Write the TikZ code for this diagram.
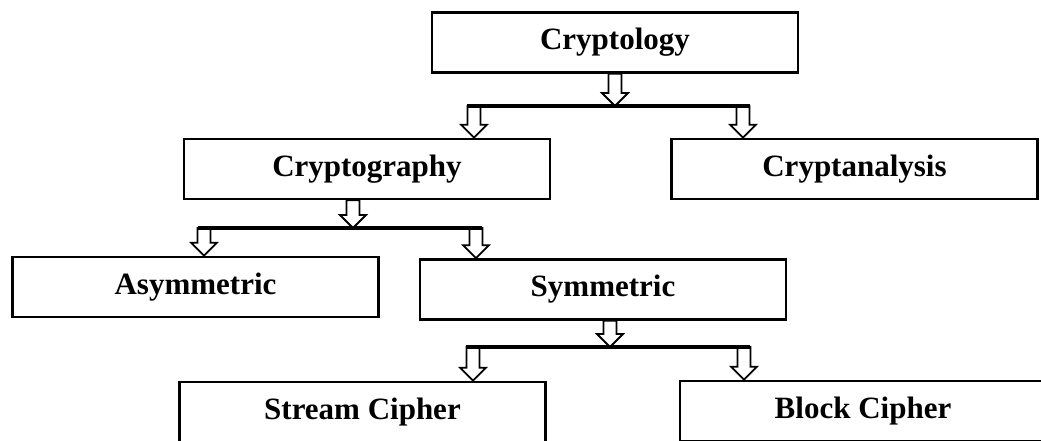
\documentclass[tikz,border=0pt]{standalone}
\usepackage{fontspec}
\setmainfont{Liberation Serif}
\usetikzlibrary{calc}
\tikzset{
  box/.style={draw=black, line width=2.6pt, minimum width=366pt, minimum height=60pt,
    inner sep=0pt, font=\fontsize{31}{36}\selectfont\bfseries},
  bar/.style={draw=black, line width=4pt},
  harrow/.style={draw=black, line width=1.8pt, fill=white, line join=miter},
}
\newcommand{\hollowarrow}[2]{%
  \draw[harrow] let \p1=(#1), \p2=(#2) in
   (\x1-6.5pt,\y1) -- (\x1+6.5pt,\y1) -- (\x1+6.5pt,\y2+13pt) -- (\x1+13pt,\y2+13pt)
   -- (\x1,\y2) -- (\x1-13pt,\y2+13pt) -- (\x1-6.5pt,\y2+13pt) -- cycle;}
\begin{document}
\begin{tikzpicture}[x=1pt,y=-1pt]
\useasboundingbox (0,0) rectangle (1041,441);
\clip (0,0) rectangle (1041,441);
% boxes
\node[box] (cryptology)    at (615,42.5)  {Cryptology};
\node[box] (cryptography)  at (367,169)   {Cryptography};
\node[box] (cryptanalysis) at (854.5,169) {Cryptanalysis};
\node[box] (asym)          at (195.5,287) {Asymmetric};
\node[box] (sym)           at (603,289.5) {Symmetric};
\node[box] (stream)        at (362.5,412) {Stream Cipher};
\node[box] (block)         at (863,411)   {Block Cipher};
% bar points
\coordinate (b1)  at (615,106);
\coordinate (b1l) at (467,106);
\coordinate (b1r) at (750,106);
\coordinate (a1l) at (474,106);
\coordinate (a1r) at (743,106);
\coordinate (b2)  at (353,228);
\coordinate (b2l) at (198,228);
\coordinate (b2r) at (482,228);
\coordinate (a2l) at (204,228);
\coordinate (a2r) at (476,228);
\coordinate (b3)  at (610,347);
\coordinate (b3l) at (466,347);
\coordinate (b3r) at (750,347);
\coordinate (a3l) at (473,347);
\coordinate (a3r) at (744,347);
% arrows into bars
\hollowarrow{b1 |- cryptology.south}{b1}
\hollowarrow{b2 |- cryptography.south}{b2}
\hollowarrow{b3 |- sym.south}{b3}
% arrows out of bars
\hollowarrow{a1l}{a1l |- cryptography.north}
\hollowarrow{a1r}{a1r |- cryptanalysis.north}
\hollowarrow{a2l}{a2l |- asym.north}
\hollowarrow{a2r}{a2r |- sym.north}
\hollowarrow{a3l}{a3l |- stream.north}
\hollowarrow{a3r}{a3r |- block.north}
% bars
\draw[bar] (b1l) -- (b1r);
\draw[bar] (b2l) -- (b2r);
\draw[bar] (b3l) -- (b3r);
\end{tikzpicture}
\end{document}
